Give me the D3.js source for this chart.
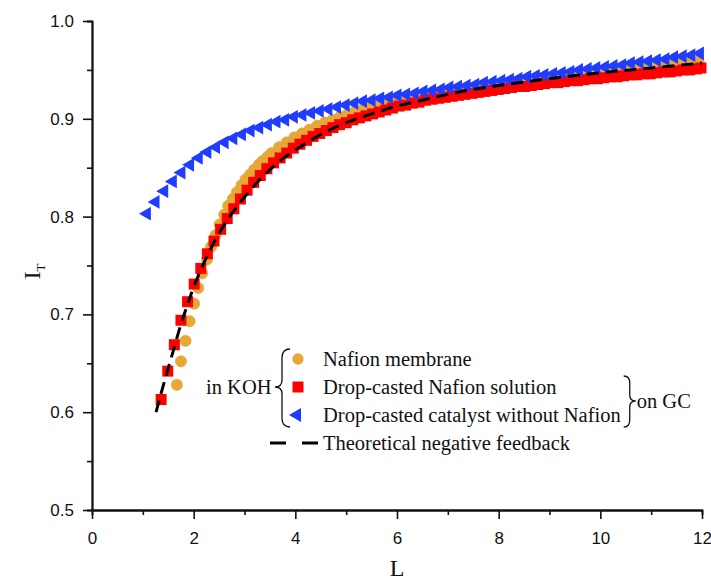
<!DOCTYPE html>
<html>
<head>
<meta charset="utf-8">
<script src="https://d3js.org/d3.v7.min.js"></script>
<style>
  body { margin: 0; background: #fff; }
  .tick text { font-family: "Liberation Sans", Arial, sans-serif; font-size: 17px; fill: #111; }
  .serif { font-family: "Liberation Serif", "Times New Roman", serif; fill: #111; }
</style>
</head>
<body>
<div id="chart"></div>
<script>
// Axis ticks
var xTicks = [0, 2, 4, 6, 8, 10, 12];
var xMinor = [1, 3, 5, 7, 9, 11];
var yTicks = [0.5, 0.6, 0.7, 0.8, 0.9, 1.0];
var yMinor = [0.55, 0.65, 0.75, 0.85, 0.95];

// Series names (legend)
var seriesNames = ["Nafion membrane", "Drop-casted Nafion solution",
                   "Drop-casted catalyst without Nafion", "Theoretical negative feedback"];

// Nafion membrane [L, IT]
var membrane = [
  [1.67,0.628],[1.75,0.652],[1.84,0.673],[1.92,0.693],[2.01,0.711],[2.09,0.727],[2.17,0.742],
  [2.26,0.756],[2.34,0.769],[2.43,0.781],[2.51,0.792],[2.60,0.802],[2.68,0.811],[2.77,0.818],
  [2.85,0.825],[2.94,0.832],[3.02,0.838],[3.11,0.843],[3.19,0.848],[3.28,0.853],[3.36,0.857],
  [3.45,0.861],[3.53,0.865],[3.68,0.871],[3.83,0.876],[3.98,0.881],[4.13,0.885],[4.28,0.889],
  [4.43,0.893],[4.58,0.896],[4.73,0.899],[4.88,0.902],[5.03,0.905],[5.18,0.908],[5.33,0.910],
  [5.48,0.912],[5.63,0.914],[5.78,0.916],[5.93,0.918],[6.08,0.920],[6.23,0.921],[6.38,0.923],
  [6.53,0.924],[6.68,0.925],[6.83,0.927],[6.98,0.928],[7.13,0.929],[7.28,0.930],[7.43,0.931],
  [7.58,0.933],[7.73,0.934],[7.88,0.935],[8.03,0.936],[8.18,0.937],[8.33,0.938],[8.48,0.939],
  [8.63,0.940],[8.78,0.941],[8.93,0.942],[9.08,0.943],[9.23,0.944],[9.38,0.945],[9.53,0.946],
  [9.68,0.947],[9.83,0.948],[9.98,0.949],[10.13,0.950],[10.28,0.950],[10.43,0.951],[10.58,0.952],
  [10.73,0.953],[10.88,0.954],[11.03,0.955],[11.18,0.955],[11.33,0.956],[11.48,0.957],
  [11.63,0.958],[11.78,0.958],[11.93,0.959]
];

// Drop-casted Nafion solution [L, IT]
var solution = [
  [1.36,0.613],[1.49,0.642],[1.62,0.669],[1.75,0.694],[1.88,0.713],[2.01,0.731],[2.14,0.747],
  [2.27,0.762],[2.40,0.775],[2.53,0.787],[2.66,0.798],[2.79,0.808],[2.92,0.818],[3.05,0.827],
  [3.18,0.835],[3.31,0.842],[3.44,0.849],[3.57,0.855],[3.70,0.860],[3.83,0.865],[3.96,0.870],
  [4.09,0.874],[4.22,0.878],[4.35,0.882],[4.48,0.885],[4.61,0.888],[4.74,0.891],[4.87,0.894],
  [5.00,0.896],[5.13,0.899],[5.26,0.901],[5.39,0.903],[5.52,0.905],[5.65,0.907],[5.78,0.909],
  [5.91,0.911],[6.04,0.913],[6.17,0.914],[6.30,0.916],[6.43,0.917],[6.56,0.919],[6.69,0.920],
  [6.82,0.921],[6.95,0.922],[7.08,0.923],[7.21,0.924],[7.34,0.925],[7.47,0.926],[7.60,0.927],
  [7.73,0.928],[7.86,0.929],[7.99,0.930],[8.12,0.931],[8.25,0.932],[8.38,0.933],[8.51,0.933],
  [8.64,0.934],[8.77,0.935],[8.90,0.936],[9.03,0.937],[9.16,0.937],[9.29,0.938],[9.42,0.939],
  [9.55,0.939],[9.68,0.940],[9.81,0.941],[9.94,0.941],[10.07,0.942],[10.20,0.943],[10.33,0.943],
  [10.46,0.944],[10.59,0.945],[10.72,0.945],[10.85,0.946],[10.98,0.946],[11.11,0.947],
  [11.24,0.948],[11.37,0.948],[11.50,0.949],[11.63,0.950],[11.76,0.950],[11.89,0.951],[11.98,0.952]
];

// Drop-casted catalyst without Nafion [L, IT]
var catalyst = [
  [1.08,0.803],[1.25,0.815],[1.42,0.826],[1.59,0.836],[1.76,0.845],[1.93,0.853],[2.10,0.860],
  [2.27,0.866],[2.44,0.871],[2.61,0.876],[2.78,0.880],[2.95,0.884],[3.12,0.888],[3.29,0.891],
  [3.46,0.894],[3.63,0.897],[3.80,0.899],[3.97,0.902],[4.14,0.904],[4.31,0.906],[4.48,0.908],
  [4.65,0.910],[4.82,0.912],[4.99,0.914],[5.16,0.916],[5.33,0.918],[5.50,0.919],[5.67,0.921],
  [5.84,0.922],[6.01,0.924],[6.18,0.925],[6.35,0.926],[6.52,0.928],[6.69,0.929],[6.86,0.930],
  [7.03,0.932],[7.20,0.933],[7.37,0.934],[7.54,0.935],[7.71,0.937],[7.88,0.938],[8.05,0.939],
  [8.22,0.940],[8.39,0.941],[8.56,0.943],[8.73,0.944],[8.90,0.945],[9.07,0.946],[9.24,0.947],
  [9.41,0.948],[9.58,0.950],[9.75,0.951],[9.92,0.952],[10.09,0.953],[10.26,0.954],[10.43,0.955],
  [10.60,0.957],[10.77,0.958],[10.94,0.959],[11.11,0.960],[11.28,0.961],[11.45,0.963],
  [11.62,0.964],[11.79,0.965],[11.96,0.967]
];

// Theoretical negative feedback curve [L, IT]
var theory = [
  [1.26,0.600],[1.40,0.627],[1.50,0.645],[1.60,0.663],[1.75,0.690],[1.90,0.713],[2.00,0.728],
  [2.25,0.758],[2.50,0.783],[2.75,0.803],[3.00,0.820],[3.25,0.835],[3.50,0.848],[3.75,0.859],
  [4.00,0.868],[4.50,0.884],[5.00,0.896],[5.50,0.905],[6.00,0.913],[6.50,0.919],[7.00,0.925],
  [7.50,0.930],[8.00,0.934],[9.00,0.941],[10.00,0.947],[11.00,0.952],[12.00,0.957]
];

var colors = { membrane: "#E8A835", solution: "#FF0000", catalyst: "#1F3CFF" };

// Set the dimensions and margins of the graph
var margin = {top: 21, right: 9, bottom: 73, left: 92},
    width = 711 - margin.left - margin.right,
    height = 583 - margin.top - margin.bottom;

var svg = d3.select("#chart")
  .append("svg")
    .attr("width", 711)
    .attr("height", 583)
  .append("g")
    .attr("transform", "translate(" + margin.left + "," + margin.top + ")");

var x = d3.scaleLinear().domain([0, 12]).range([0, width]);
var y = d3.scaleLinear().domain([0.5, 1.0]).range([height, 0]);

// Minor ticks first, then major axes on top
svg.append("g")
  .attr("transform", "translate(0," + height + ")")
  .call(d3.axisBottom(x).tickValues(xMinor).tickSize(5).tickFormat(""));
svg.append("g")
  .call(d3.axisLeft(y).tickValues(yMinor).tickSize(5).tickFormat(""));

var xAxis = svg.append("g")
  .attr("transform", "translate(0," + height + ")")
  .call(d3.axisBottom(x).tickValues(xTicks).tickSizeInner(9).tickSizeOuter(0).tickPadding(13));
var yAxis = svg.append("g")
  .call(d3.axisLeft(y).tickValues(yTicks).tickSizeInner(9).tickSizeOuter(0).tickPadding(9)
    .tickFormat(d3.format(".1f")));

svg.selectAll(".domain").attr("stroke", "#111").attr("stroke-width", 1.8);
svg.selectAll(".tick line").attr("stroke", "#111").attr("stroke-width", 1.6);

// Axis titles
svg.append("text")
  .attr("class", "serif")
  .attr("x", width / 2)
  .attr("y", height + 66)
  .attr("text-anchor", "middle")
  .style("font-size", "24px")
  .text("L");

var yTitle = svg.append("text")
  .attr("class", "serif")
  .attr("transform", "translate(" + (-52) + "," + (height / 2 + 6) + ") rotate(-90)")
  .attr("text-anchor", "middle")
  .style("font-size", "24px");
yTitle.append("tspan").text("I");
yTitle.append("tspan").attr("dy", 5).style("font-size", "13px").text("T");

// Markers
var circleSym = d3.symbol().type(d3.symbolCircle).size(100);
var squareSym = d3.symbol().type(d3.symbolSquare).size(121);
var triSym = d3.symbol().type(d3.symbolTriangle).size(82);

svg.append("g").selectAll("path")
  .data(membrane)
  .enter().append("path")
    .attr("d", circleSym)
    .attr("transform", function(d) { return "translate(" + x(d[0]) + "," + y(d[1]) + ")"; })
    .attr("fill", colors.membrane)
    .attr("stroke", "#d4a040")
    .attr("stroke-width", 0.5);

svg.append("g").selectAll("path")
  .data(solution)
  .enter().append("path")
    .attr("d", squareSym)
    .attr("transform", function(d) { return "translate(" + x(d[0]) + "," + y(d[1]) + ")"; })
    .attr("fill", colors.solution);

svg.append("g").selectAll("path")
  .data(catalyst)
  .enter().append("path")
    .attr("d", triSym)
    .attr("transform", function(d) { return "translate(" + x(d[0]) + "," + y(d[1]) + ") rotate(-90)"; })
    .attr("fill", colors.catalyst);

// Theoretical curve (dashed)
var line = d3.line()
  .x(function(d) { return x(d[0]); })
  .y(function(d) { return y(d[1]); })
  .curve(d3.curveCatmullRom);

svg.append("path")
  .datum(theory)
  .attr("d", line)
  .attr("fill", "none")
  .attr("stroke", "#000")
  .attr("stroke-width", 3)
  .attr("stroke-dasharray", "12,7");

// Legend (page coordinates, so put it on the root svg)
var root = d3.select("#chart svg");
var legRows = [359, 387, 415, 443];
var legText = root.append("g").attr("class", "serif").style("font-size", "20.5px");

var rowTexts = [];
seriesNames.forEach(function(name, i) {
  var t = legText.append("text")
    .attr("x", 323)
    .attr("y", legRows[i])
    .attr("dy", "0.35em")
    .text(name);
  rowTexts.push(t);
});

root.append("path").attr("d", circleSym)
  .attr("transform", "translate(298," + legRows[0] + ")")
  .attr("fill", colors.membrane);
root.append("path").attr("d", squareSym)
  .attr("transform", "translate(298," + legRows[1] + ")")
  .attr("fill", colors.solution);
root.append("path").attr("d", triSym)
  .attr("transform", "translate(297," + legRows[2] + ") rotate(-90)")
  .attr("fill", colors.catalyst);
root.append("line")
  .attr("x1", 270).attr("x2", 322)
  .attr("y1", legRows[3]).attr("y2", legRows[3])
  .attr("stroke", "#000").attr("stroke-width", 3)
  .attr("stroke-dasharray", "16,16");

legText.append("text")
  .attr("x", 206)
  .attr("y", 387)
  .attr("dy", "0.35em")
  .text("in KOH");

// Left brace for the three measured series
root.append("path")
  .attr("d", "M290,349 Q282,349 282,358 L282,380 Q282,387 275,387 Q282,387 282,394 L282,418 Q282,427 290,427")
  .attr("fill", "none").attr("stroke", "#111").attr("stroke-width", 1.3);

// Right brace for the two drop-casted series
var bx = 323 + rowTexts[2].node().getComputedTextLength() + 3;
root.append("path")
  .attr("d", "M" + bx + ",376 Q" + (bx + 6) + ",376 " + (bx + 6) + ",383 L" + (bx + 6) + ",395 Q" + (bx + 6) + ",401 " + (bx + 12) + ",401 Q" + (bx + 6) + ",401 " + (bx + 6) + ",407 L" + (bx + 6) + ",420 Q" + (bx + 6) + ",427 " + bx + ",427")
  .attr("fill", "none").attr("stroke", "#111").attr("stroke-width", 1.3);

legText.append("text")
  .attr("x", bx + 13)
  .attr("y", 401)
  .attr("dy", "0.35em")
  .text("on GC");
</script>
</body>
</html>
